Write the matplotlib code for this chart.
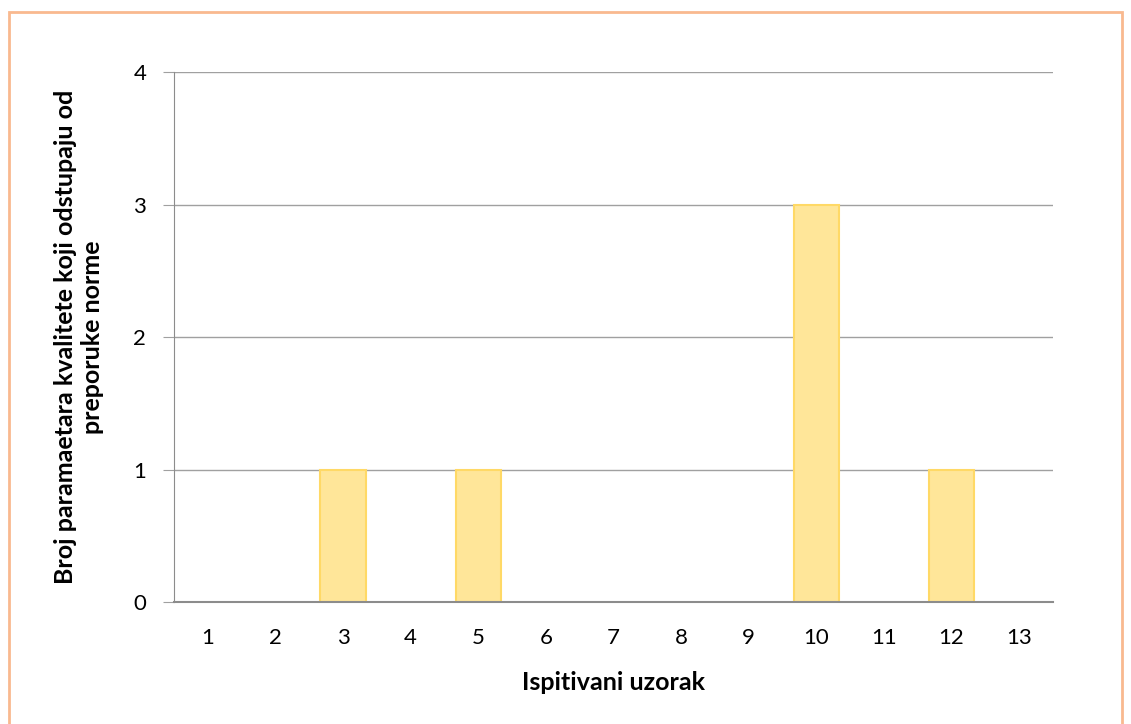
import matplotlib
matplotlib.use("Agg")
import matplotlib.pyplot as plt
from matplotlib.patches import Rectangle

categories = ["1", "2", "3", "4", "5", "6", "7", "8", "9", "10", "11", "12", "13"]
values = [0, 0, 1, 0, 1, 0, 0, 0, 0, 3, 0, 1, 0]
yticks = [0, 1, 2, 3, 4]

plt.rcParams['font.family'] = ['Lato', 'DejaVu Sans']

W, H = 1131, 724
fig = plt.figure(figsize=(W / 100, H / 100), dpi=100)
ax = fig.add_axes([174 / W, 1 - 602 / H, (1053 - 174) / W, (602 - 72) / H])

x = list(range(len(categories)))
edges = ["#FFD966" if v > 0 else "none" for v in values]
ax.bar(x, values, width=0.67, color="#FFE699", edgecolor=edges, linewidth=1.5, zorder=3)
ax.set_xlim(-0.5, len(categories) - 0.5)
ax.set_ylim(0, 4)
ax.set_yticks(yticks)
ax.set_xticks(x)
ax.set_xticklabels(categories)
ax.yaxis.grid(True, color="#A0A0A0", linewidth=1)
ax.set_axisbelow(True)
for s in ["top", "right"]:
    ax.spines[s].set_visible(False)
ax.spines["left"].set_color("#8C8C8C")
ax.spines["bottom"].set_color("#8C8C8C")
ax.spines["bottom"].set_linewidth(1.5)
ax.spines["bottom"].set_zorder(4)
ax.tick_params(axis="y", length=8, color="#A0A0A0", labelsize=16, pad=12)
ax.tick_params(axis="x", length=0, labelsize=16, pad=19)
ax.set_xlabel("Ispitivani uzorak", fontsize=18, fontweight="bold", labelpad=16)
ax.set_ylabel("Broj paramaetara kvalitete koji odstupaju od\npreporuke norme",
              fontsize=18, fontweight="bold", labelpad=21, linespacing=1.2)

fig.patches.append(Rectangle((9 / W, -0.05), (1122 - 9) / W, 1.05 - 12 / H,
                             transform=fig.transFigure, fill=False,
                             edgecolor="#F9B98F", linewidth=2))

fig.savefig("out.png", dpi=100)
